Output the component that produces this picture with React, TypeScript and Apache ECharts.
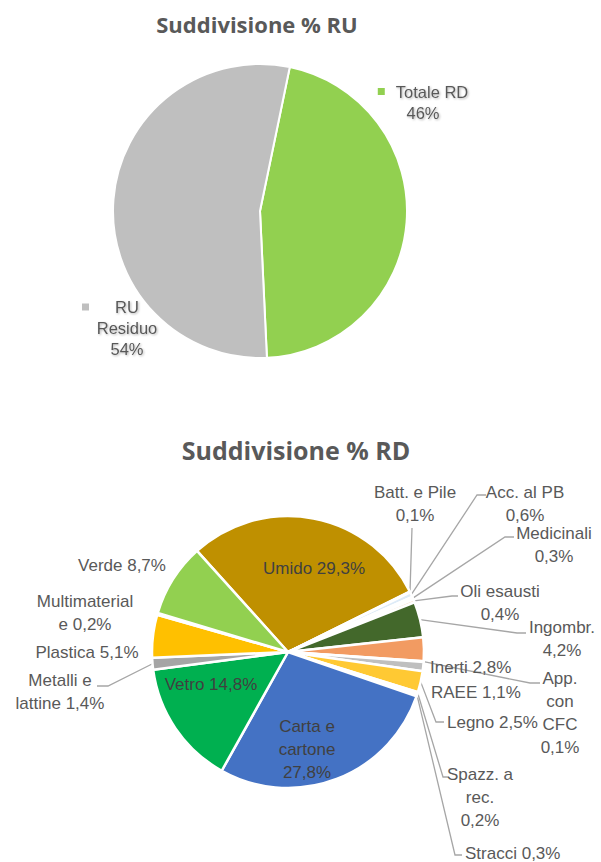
import React, { useEffect, useRef } from 'react';
import * as echarts from 'echarts';

// ---- Data: top chart (Suddivisione % RU) ----
const ruCategories = ['Totale RD', 'RU Residuo'];
const ruValues = [46, 54];
const ruColors = ['#92D050', '#BFBFBF'];

// ---- Data: bottom chart (Suddivisione % RD) ----
const rdCategories = [
  'Umido', 'Batt. e Pile', 'Acc. al PB', 'Medicinali', 'Oli esausti', 'Ingombr.',
  'Inerti', 'App. con CFC', 'RAEE', 'Legno', 'Spazz. a rec.', 'Stracci',
  'Carta e cartone', 'Vetro', 'Metalli e lattine', 'Plastica', 'Multimateriale', 'Verde',
];
const rdValues = [29.3, 0.1, 0.6, 0.3, 0.4, 4.2, 2.8, 0.1, 1.1, 2.5, 0.2, 0.3, 27.8, 14.8, 1.4, 5.1, 0.2, 8.7];
// label text templates ('#' is replaced by the percentage)
const rdLabelTexts = [
  'Umido #', 'Batt. e Pile\n#', 'Acc. al PB\n#', 'Medicinali\n#', 'Oli esausti\n#', 'Ingombr.\n#',
  'Inerti #', 'App.\ncon\nCFC\n#', 'RAEE #', 'Legno #', 'Spazz. a\nrec.\n#', 'Stracci #',
  'Carta e\ncartone\n#', 'Vetro #', 'Metalli e\nlattine #', 'Plastica #', 'Multimaterial\ne #', 'Verde #',
];
const rdColors = [
  '#BF9000', '#F2F2F2', '#DEEBF7', '#E2F0D9', '#FBE5D6', '#43682B',
  '#F29B62', '#EDEDED', '#BFBFBF', '#FFC933', '#F2F2F2', '#FFF2CC',
  '#4472C4', '#00B050', '#A5A5A5', '#FFC000', '#F2F2F2', '#92D050',
];
const rdInside = [true, false, false, false, false, false, false, false, false, false, false, false, true, true, false, false, false, false];

// ---- Layout (label placement, not data) ----
type LP = { x: number; y: number; align: 'left' | 'center' | 'right'; line?: number[][] };
const rdLabelLayout: LP[] = [
  { x: 314, y: 568, align: 'center' },
  { x: 415, y: 504, align: 'center', line: [[412, 528], [412, 528]] },
  { x: 525, y: 504, align: 'center', line: [[477, 495], [486, 495]] },
  { x: 554, y: 545, align: 'center', line: [[505, 537], [514, 537]] },
  { x: 500, y: 603, align: 'center', line: [[452, 596], [458, 596]] },
  { x: 562, y: 639, align: 'center', line: [[517, 633], [526, 633]] },
  { x: 430, y: 667, align: 'left' },
  { x: 560, y: 713, align: 'center', line: [[530, 683], [540, 683]] },
  { x: 431, y: 692, align: 'left' },
  { x: 447, y: 722, align: 'left', line: [[436, 722], [444, 722]] },
  { x: 480, y: 797, align: 'center', line: [[443, 777], [449, 777]] },
  { x: 465, y: 853, align: 'left', line: [[455, 855], [462, 855]] },
  { x: 307, y: 749, align: 'center' },
  { x: 211, y: 684, align: 'center' },
  { x: 60, y: 692, align: 'center', line: [[108, 686], [97, 686]] },
  { x: 87, y: 652, align: 'center' },
  { x: 85, y: 613, align: 'center' },
  { x: 122, y: 565, align: 'center' },
];
const ruLabelLayout: LP[] = [
  { x: 423, y: 102, align: 'center' },
  { x: 127, y: 328, align: 'center' },
];

const fmtPct = (v: number) => v.toFixed(1).replace('.', ',') + '%';

export default function App() {
  const ref = useRef<HTMLDivElement>(null);

  useEffect(() => {
    document.body.style.margin = '0';
    if (!ref.current) return;
    const chart = echarts.init(ref.current, undefined, { renderer: 'svg' });

    const labelFont = 'Liberation Sans, Arial, sans-serif';

    const option: any = {
      animation: false,
      backgroundColor: '#FFFFFF',
      graphic: [
        {
          type: 'text', x: 257, y: 24,
          style: {
            text: 'Suddivisione % RU', fill: '#595959', fontFamily: 'Open Sans', fontWeight: 'bold', fontSize: 22,
            align: 'center', verticalAlign: 'middle', textAlign: 'center', textVerticalAlign: 'middle',
          },
        },
        {
          type: 'text', x: 296, y: 450,
          style: {
            text: 'Suddivisione % RD', fill: '#595959', fontFamily: 'Open Sans', fontWeight: 'bold', fontSize: 25,
            align: 'center', verticalAlign: 'middle', textAlign: 'center', textVerticalAlign: 'middle',
          },
        },
      ],
      series: [
        {
          type: 'pie',
          center: [260, 211],
          radius: [0, 147],
          startAngle: 78.3,
          clockwise: true,
          avoidLabelOverlap: false,
          emphasis: { disabled: true },
          itemStyle: { borderColor: '#FFFFFF', borderWidth: 2 },
          label: {
            show: true,
            position: 'inside',
            fontFamily: labelFont,
            fontSize: 16.5,
            lineHeight: 21,
            color: '#595959',
            textShadowColor: 'rgba(0,0,0,0.3)',
            textShadowBlur: 2,
            textShadowOffsetX: 1,
            textShadowOffsetY: 1,
            formatter: (p: any) => {
              const pct = Math.round(p.value) + '%';
              if (p.dataIndex === 0) return '{sq0| }{gap| }' + p.name + '\n' + pct;
              const parts = p.name.split(' ');
              return '{sq1| }{ru|' + parts[0] + '}{gap2| }\n' + parts[1] + '\n' + pct;
            },
            rich: {
              sq0: { width: 7, height: 7, backgroundColor: ruColors[0], verticalAlign: 'middle', lineHeight: 21 },
              sq1: { width: 7, height: 7, backgroundColor: ruColors[1], verticalAlign: 'middle', lineHeight: 21 },
              gap: { width: 11, lineHeight: 21 },
              gap2: { width: 7, lineHeight: 21 },
              ru: { width: 76, align: 'center', fontFamily: labelFont, fontSize: 16.5, lineHeight: 21, color: '#595959' },
            },
          },
          labelLine: { show: false },
          labelLayout: (params: any) => {
            const L = ruLabelLayout[params.dataIndex];
            return { x: L.x, y: L.y, align: L.align, verticalAlign: 'middle' };
          },
          data: ruCategories.map((name, i) => ({
            name,
            value: ruValues[i],
            itemStyle: { color: ruColors[i] },
          })),
        },
        {
          type: 'pie',
          center: [288, 652],
          radius: [0, 136],
          startAngle: 132,
          clockwise: true,
          avoidLabelOverlap: false,
          emphasis: { disabled: true },
          itemStyle: { borderColor: '#FFFFFF', borderWidth: 2.5 },
          label: {
            show: true,
            position: 'outside',
            fontFamily: labelFont,
            fontSize: 17,
            lineHeight: 23,
            color: '#595959',
            formatter: (p: any) => rdLabelTexts[p.dataIndex].replace('#', fmtPct(p.value)),
          },
          labelLine: {
            show: true,
            length: 10,
            length2: 10,
            lineStyle: { color: '#A6A6A6', width: 1.3 },
          },
          labelLayout: (params: any) => {
            const L = rdLabelLayout[params.dataIndex];
            const res: any = { x: L.x, y: L.y, align: L.align, verticalAlign: 'middle' };
            if (L.line && params.labelLinePoints && params.labelLinePoints.length) {
              const p0 = params.labelLinePoints[0];
              res.labelLinePoints = [[p0[0], p0[1]], L.line[0], L.line[1]];
            }
            return res;
          },
          data: rdCategories.map((name, i) => ({
            name,
            value: rdValues[i],
            itemStyle: { color: rdColors[i] },
            label: { color: rdInside[i] ? '#404040' : '#595959' },
            labelLine: { show: !!rdLabelLayout[i].line },
          })),
        },
      ],
    };

    chart.setOption(option);
    return () => chart.dispose();
  }, []);

  return <div ref={ref} style={{ width: 601, height: 862 }} />;
}
